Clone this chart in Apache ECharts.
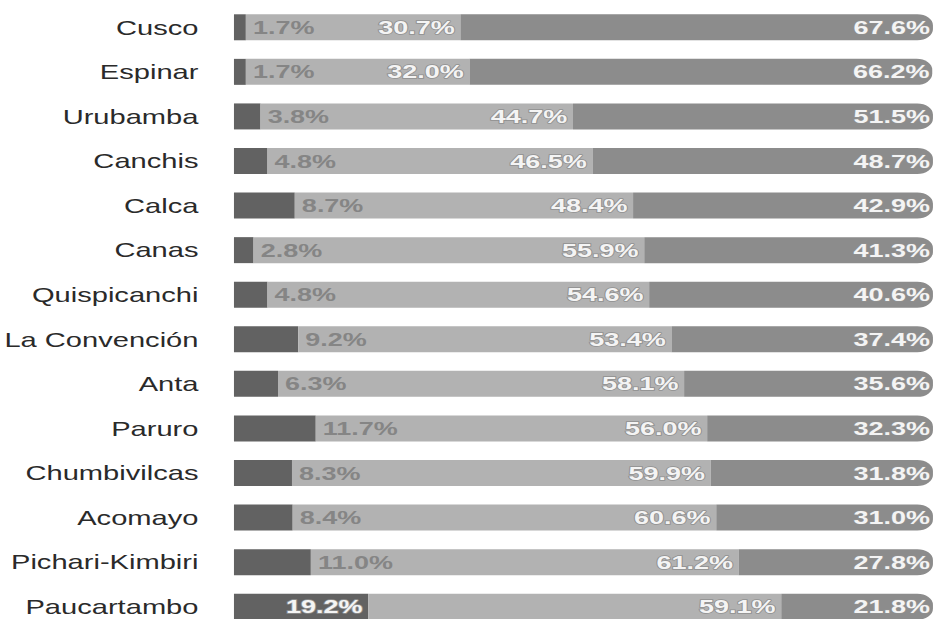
<!DOCTYPE html>
<html>
<head>
<meta charset="utf-8">
<script src="https://cdn.jsdelivr.net/npm/echarts@6/dist/echarts.min.js"></script>
<style>
  html, body { margin: 0; padding: 0; background: #fff; overflow: hidden; }
  #wrap { width: 940px; height: 619px; overflow: hidden; }
  #chart { width: 662px; height: 640px; transform: scaleX(1.42); transform-origin: 0 0; }
</style>
</head>
<body>
<div id="wrap"><div id="chart"></div></div>
<script>
const categories = ['Cusco', 'Espinar', 'Urubamba', 'Canchis', 'Calca', 'Canas', 'Quispicanchi', 'La Convención', 'Anta', 'Paruro', 'Chumbivilcas', 'Acomayo', 'Pichari-Kimbiri', 'Paucartambo'];
const seriesA = [1.7, 1.7, 3.8, 4.8, 8.7, 2.8, 4.8, 9.2, 6.3, 11.7, 8.3, 8.4, 11.0, 19.2];
const seriesB = [30.7, 32.0, 44.7, 46.5, 48.4, 55.9, 54.6, 53.4, 58.1, 56.0, 59.9, 60.6, 61.2, 59.1];
const seriesC = [67.6, 66.2, 51.5, 48.7, 42.9, 41.3, 40.6, 37.4, 35.6, 32.3, 31.8, 31.0, 27.8, 21.8];

const fmt = p => p.value.toFixed(1) + '%';
const baseLabel = {
  show: true,
  formatter: fmt,
  fontFamily: 'Liberation Sans',
  fontWeight: 'bold',
  fontSize: 19,
  color: '#f4f4f4',
  textBorderColor: '#909090',
  textBorderWidth: 1.5
};

const dataA = seriesA.map(v => {
  const inside = v >= 15;
  return {
    value: v,
    label: inside
      ? { position: 'insideRight', distance: 4 }
      : { position: 'right', distance: 5, color: '#858585', textBorderWidth: 0 }
  };
});

const chart = echarts.init(document.getElementById('chart'), null, { renderer: 'svg' });
chart.setOption({
  animation: false,
  backgroundColor: '#ffffff',
  grid: { left: 161, right: 5, top: 5, bottom: 11, containLabel: false },
  xAxis: { type: 'value', min: 0, max: 100, show: false },
  yAxis: {
    type: 'category',
    data: categories,
    inverse: true,
    axisLine: { show: false },
    axisTick: { show: false },
    splitLine: { show: false },
    axisLabel: { fontFamily: 'Liberation Sans', fontSize: 20.5, color: '#2a2a2a', margin: 25 }
  },
  series: [
    {
      type: 'bar', stack: 'total', barWidth: 26, data: dataA,
      itemStyle: { color: '#626262' },
      label: Object.assign({}, baseLabel)
    },
    {
      type: 'bar', stack: 'total', barWidth: 26, data: seriesB,
      itemStyle: { color: '#b2b2b2' },
      label: Object.assign({}, baseLabel, { position: 'insideRight', distance: 4 })
    },
    {
      type: 'bar', stack: 'total', barWidth: 26, data: seriesC,
      itemStyle: { color: '#8c8c8c', borderRadius: [0, 11, 11, 0] },
      label: Object.assign({}, baseLabel, { position: 'insideRight', distance: 2 })
    }
  ]
});
</script>
</body>
</html>
